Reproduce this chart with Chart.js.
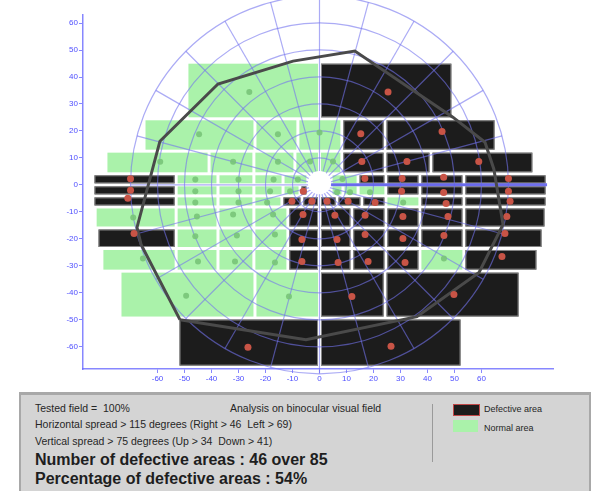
<!DOCTYPE html>
<html>
<head>
<meta charset="utf-8">
<script src="https://cdn.jsdelivr.net/npm/chart.js@4.4.1/dist/chart.umd.min.js"></script>
<style>
  html, body { margin: 0; padding: 0; background: #fff; }
  #wrap { position: relative; width: 609px; height: 491px; overflow: hidden; font-family: "Liberation Sans", Arial, sans-serif; }
  #fieldChart { position: absolute; left: 0; top: 0; }
  #panel { position: absolute; left: 19px; top: 392px; width: 568px; height: 120px; background: #d4d4d4;
           border-top: 3px solid #a8a8a8; border-left: 2px solid #a8a8a8; border-right: 2px solid #a8a8a8; }
  .txt { position: absolute; white-space: pre; color: #262626; }
  .small { font-size: 10.5px; line-height: 12px; }
  .big { font-size: 16px; line-height: 18px; font-weight: bold; color: #1e1e1e; }
  .legend { font-size: 9px; line-height: 10px; }
  .swatch { position: absolute; width: 25px; }
  #sep { position: absolute; left: 432px; top: 404px; width: 1px; height: 58px; background: #9a9a9a; }
</style>
</head>
<body>
<div id="wrap">
  <canvas id="fieldChart" width="609" height="392"></canvas>
  <div id="panel"></div>
  <div class="txt small" style="left:35px;top:402px">Tested field =  100%</div>
  <div class="txt small" style="left:230px;top:402px">Analysis on binocular visual field</div>
  <div class="txt small" style="left:35px;top:418px">Horizontal spread &gt; 115 degrees (Right &gt; 46  Left &gt; 69)</div>
  <div class="txt small" style="left:35px;top:435px">Vertical spread &gt; 75 degrees (Up &gt; 34  Down &gt; 41)</div>
  <div class="txt big" style="left:35px;top:451px">Number of defective areas : 46 over 85</div>
  <div class="txt big" style="left:35px;top:470px">Percentage of defective areas : 54%</div>
  <div id="sep"></div>
  <div class="swatch" style="left:453px;top:404px;height:10px;background:#1c1c1c;border:1px solid #c04848;"></div>
  <div class="txt legend" style="left:484px;top:404px">Defective area</div>
  <div class="swatch" style="left:453px;top:420px;height:12px;background:#aaf2aa;"></div>
  <div class="txt legend" style="left:484px;top:423px">Normal area</div>
</div>
<script>
const xTicks = [-60, -50, -40, -30, -20, -10, 0, 10, 20, 30, 40, 50, 60];
const yTicks = [60, 50, 40, 30, 20, 10, 0, -10, -20, -30, -40, -50, -60];
const ringRadii = [10, 20, 30, 40, 50, 60, 70];
const spokeAngles = [0, 15, 30, 45, 60, 75, 90, 105, 120, 135, 150, 165, 180, 195, 210, 225, 240, 255, 270, 285, 300, 315, 330, 345];

// horizontal bands of test areas (degrees)
const bandTop = [45.5, 24.5, 12.5, 4.1, 0, -4.1, -8.2, -16, -23.6, -32, -49.4];
const bandBottom = [24.5, 12.5, 4.1, 0, -4.1, -8.2, -16, -23.6, -32, -49.4, -67.6];

// one entry per test area, band by band
const cellBand = [
  0, 0,
  1, 1, 1, 1, 1,
  2, 2, 2, 2, 2, 2, 2, 2,
  3, 3, 3, 3, 3, 3, 3, 3, 3, 3,
  4, 4, 4, 4, 4, 4, 4, 4, 4, 4, 4, 4,
  5, 5, 5, 5, 5, 5, 5, 5, 5, 5, 5, 5,
  6, 6, 6, 6, 6, 6, 6, 6, 6, 6,
  7, 7, 7, 7, 7, 7, 7, 7, 7, 7,
  8, 8, 8, 8, 8, 8, 8, 8, 8, 8,
  9, 9, 9, 9,
  10, 10,
];
const cellLeft = [
  -49.1, 0,
  -65, -23.9, -8, 8.3, 24.3,
  -79.1, -40.9, -24.3, -9.1, 0, 8.3, 24.3, 41.3,
  -83.9, -53.1, -37.6, -24.3, -13.5, 4.3, 14.3, 24.6, 37.2, 53.5,
  -83.9, -53.1, -37.6, -24.3, -13.5, -7.2, 4.3, 8.7, 14.3, 24.6, 37.2, 53.5,
  -83.9, -53.1, -37.6, -24.3, -13.9, -6.5, 0, 6.5, 15.7, 24.6, 37.2, 53.5,
  -83.1, -53.1, -37.6, -24.3, -11.7, 0, 12, 24.6, 37.2, 53.5,
  -82.4, -53.1, -37.6, -24.3, -11.7, 0, 12, 24.6, 37.2, 53.5,
  -80.6, -53.1, -37.6, -24.3, -11.7, 0, 12, 24.6, 37.2, 53.5,
  -73.9, -23.9, 0, 24.3,
  -52.4, 0,
];
const cellRight = [
  0, 49.4,
  -23.9, -8, 8.3, 24.3, 65.4,
  -40.9, -24.3, -9.1, 0, 8.3, 24.3, 41.3, 79.4,
  -53.1, -37.6, -24.3, -13.5, -4.3, 14.3, 24.6, 37.2, 53.5, 84.3,
  -53.1, -37.6, -24.3, -13.5, -7.2, -4.3, 8.7, 14.3, 24.6, 37.2, 53.5, 84.3,
  -53.1, -37.6, -24.3, -13.9, -6.5, 0, 6.5, 15.7, 24.6, 37.2, 53.5, 84.3,
  -53.1, -37.6, -24.3, -11.7, 0, 12, 24.6, 37.2, 53.5, 83.9,
  -53.1, -37.6, -24.3, -11.7, 0, 12, 24.6, 37.2, 53.5, 82.8,
  -53.1, -37.6, -24.3, -11.7, 0, 12, 24.6, 37.2, 53.5, 80.9,
  -23.9, 0, 24.3, 74.3,
  0, 52.8,
];
const cellDefective = [
  0, 1,
  0, 0, 0, 1, 1,
  0, 0, 0, 0, 0, 1, 1, 1,
  1, 0, 0, 0, 0, 0, 1, 1, 1, 1,
  1, 0, 0, 0, 0, 1, 0, 0, 0, 1, 1, 1,
  1, 0, 0, 0, 1, 1, 1, 1, 1, 0, 1, 1,
  0, 0, 0, 0, 1, 1, 1, 1, 1, 1,
  1, 0, 0, 0, 1, 1, 1, 1, 1, 1,
  0, 0, 0, 0, 1, 1, 1, 1, 0, 1,
  0, 0, 1, 1,
  1, 1,
];
const dotX = [
  -26, 25.4,
  -44.6, -15.4, 0, 15.3, 45.4,
  -59, -32, -15.4, -3.5, 5, 15.7, 32.4, 59,
  -70, -46, -30, -17, -8, 8.5, 16.8, 30.6, 46, 70,
  -70, -46, -30, -18.3, -10.9, -6, 6.5, 11.3, 18.7, 30.4, 46, 70,
  -71, -46, -30, -19.4, -10.2, -2.8, 2.8, 10.6, 20.6, 31, 46.9, 70.6,
  -69, -45.4, -32, -17.2, -6.1, 5.7, 16.9, 30.9, 47.6, 69.4,
  -68.7, -46, -30.6, -16.5, -6.5, 6.5, 16.9, 30.9, 46.1, 68.7,
  -65.4, -45, -31.3, -16.5, -6.5, 6.9, 18, 31.7, 46.1, 67.6,
  -49.4, -11.3, 12, 49.8,
  -26.5, 26.5,
];
const dotY = [
  34.4, 34.4,
  18.8, 18.8, 19.4, 19, 19.8,
  8.6, 8.6, 8.6, 8.7, 8.7, 8.7, 8.7, 8.7,
  2.3, 2, 2, 2, 2, 2.2, 2.4, 2.4, 2.8, 2.4,
  -2, -2.4, -2.4, -2.4, -2.4, -2.4, -2.7, -2.7, -2.7, -2.4, -2.8, -2.4,
  -5, -6.5, -6.5, -6.5, -6.1, -6.1, -6.1, -6.1, -6.5, -6.5, -6.9, -6.1,
  -12.1, -11.7, -11, -11, -11, -11.3, -11.3, -11.7, -11.7, -11.7,
  -18, -19.1, -18.8, -18.4, -20.3, -20.3, -18.4, -19.9, -18.8, -18,
  -27.3, -28.4, -28.4, -28.8, -28.4, -28.8, -28.4, -28.8, -27.3, -26.6,
  -41.1, -41.4, -41.4, -40.7,
  -60.2, -59.9,
];

// outline of the tested field
const boundaryX = [-51.7, -66.1, -67.6, -59.1, -37.6, -9.8, 13.1, 49.4, 61.3, 64.6, 68, 59.1, 36.1, -5, -51.7];
const boundaryY = [-50, -22.1, -15.8, 16.2, 37.4, 45.9, 49.6, 25.1, 15.8, 5.8, -14.7, -32.5, -48.9, -57.4, -50];

const fixationRadius = 4.3;

const axisColor = "rgba(105, 105, 255, 0.8)";
const tickColor = "rgba(70, 70, 255, 0.95)";
const gridColor = "rgba(115, 115, 238, 0.6)";

const fieldGridPlugin = {
  id: "fieldGridPlugin",
  beforeDatasetsDraw(chart) {
    const { ctx } = chart;
    const xs = chart.scales.x;
    const ys = chart.scales.y;

    ctx.save();
    cellBand.forEach((band, i) => {
      const left = xs.getPixelForValue(cellLeft[i]) + 1.5;
      const right = xs.getPixelForValue(cellRight[i]) - 1.5;
      const top = ys.getPixelForValue(bandTop[band]) + 1.5;
      const bottom = ys.getPixelForValue(bandBottom[band]) - 1.5;
      ctx.fillStyle = cellDefective[i] ? "#1c1c1c" : "#aaf2aa";
      ctx.fillRect(left, top, right - left, bottom - top);
      if (cellDefective[i]) {
        ctx.strokeStyle = "rgba(150, 150, 150, 0.85)";
        ctx.lineWidth = 1;
        ctx.strokeRect(left + 0.5, top + 0.5, right - left - 1, bottom - top - 1);
      }
    });

    const cx = xs.getPixelForValue(0);
    const cy = ys.getPixelForValue(0);
    const unit = xs.getPixelForValue(1) - cx;
    const outer = ringRadii[ringRadii.length - 1] * unit;

    ctx.strokeStyle = gridColor;
    ctx.lineWidth = 1.2;
    ringRadii.forEach((r) => {
      ctx.beginPath();
      ctx.arc(cx, cy, r * unit, 0, Math.PI * 2);
      ctx.stroke();
    });
    spokeAngles.forEach((deg) => {
      const a = (deg * Math.PI) / 180;
      ctx.beginPath();
      ctx.moveTo(cx, cy);
      ctx.lineTo(cx + Math.cos(a) * outer, cy - Math.sin(a) * outer);
      ctx.stroke();
    });

    // emphasised horizontal meridian on the right
    ctx.strokeStyle = "rgba(95, 95, 235, 0.9)";
    ctx.lineWidth = 3;
    ctx.beginPath();
    ctx.moveTo(xs.getPixelForValue(fixationRadius), cy);
    ctx.lineTo(xs.getPixelForValue(84.3), cy);
    ctx.stroke();

    // fixation disc
    ctx.fillStyle = "#ffffff";
    ctx.beginPath();
    ctx.arc(cx, ys.getPixelForValue(0.8), fixationRadius * unit, 0, Math.PI * 2);
    ctx.fill();
    ctx.restore();
  },
};

const defectivePoints = [];
const normalPoints = [];
dotX.forEach((x, i) => {
  const point = { x, y: dotY[i] };
  if (cellDefective[i]) {
    defectivePoints.push(point);
  } else {
    normalPoints.push(point);
  }
});

new Chart(document.getElementById("fieldChart"), {
  type: "scatter",
  data: {
    datasets: [
      {
        label: "Defective",
        data: defectivePoints,
        pointRadius: 3.5,
        pointBackgroundColor: "rgb(200, 84, 70)",
        pointBorderWidth: 0,
        order: 0,
      },
      {
        label: "Normal",
        data: normalPoints,
        pointRadius: 3,
        pointBackgroundColor: "rgba(120, 196, 120, 0.9)",
        pointBorderWidth: 0,
        order: 0,
      },
      {
        label: "Tested field",
        data: boundaryX.map((x, i) => ({ x, y: boundaryY[i] })),
        showLine: true,
        borderColor: "#4a4a4a",
        borderWidth: 3,
        pointRadius: 0,
        fill: false,
        tension: 0,
        order: 1,
      },
    ],
  },
  options: {
    responsive: false,
    animation: false,
    devicePixelRatio: 1,
    layout: { padding: { left: 0, right: 56, top: 15, bottom: 3 } },
    scales: {
      x: {
        type: "linear",
        min: -87.6,
        max: 86.5,
        afterBuildTicks(scale) {
          scale.ticks = xTicks.map((value) => ({ value }));
        },
        afterFit(scale) {
          scale.height = 20;
        },
        grid: { drawOnChartArea: false, drawTicks: true, tickLength: 4, tickColor: axisColor },
        border: { display: true, color: axisColor, width: 1.5 },
        ticks: {
          color: tickColor,
          font: { size: 8, family: "Liberation Sans" },
          padding: 1,
          autoSkip: false,
          maxRotation: 0,
        },
      },
      y: {
        type: "linear",
        min: -68.3,
        max: 63,
        afterBuildTicks(scale) {
          scale.ticks = yTicks.map((value) => ({ value }));
        },
        afterFit(scale) {
          scale.width = 83;
        },
        grid: { drawOnChartArea: false, drawTicks: true, tickLength: 4, tickColor: axisColor },
        border: { display: true, color: axisColor, width: 1.5 },
        ticks: {
          color: tickColor,
          font: { size: 8, family: "Liberation Sans" },
          padding: 1,
          autoSkip: false,
        },
      },
    },
    plugins: {
      legend: { display: false },
      tooltip: { enabled: false },
    },
  },
  plugins: [fieldGridPlugin],
});
</script>
</body>
</html>
